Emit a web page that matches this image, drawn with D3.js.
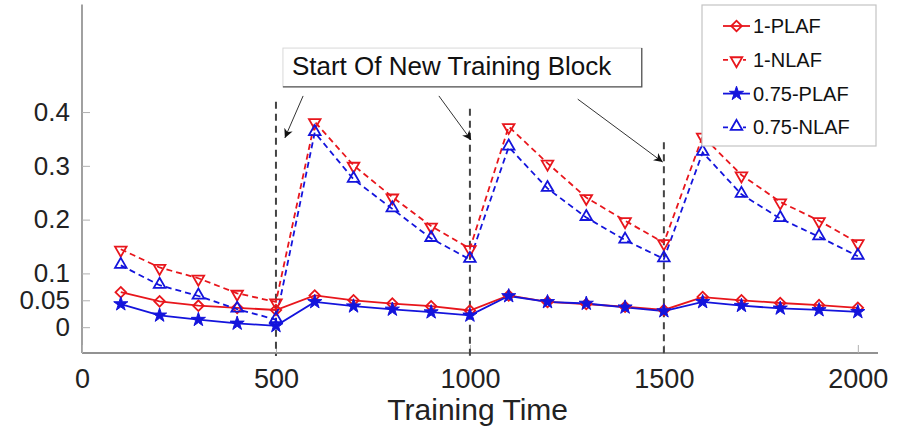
<!DOCTYPE html>
<html>
<head>
<meta charset="utf-8">
<script src="https://cdn.jsdelivr.net/npm/d3@7"></script>
<style>
  html, body { margin: 0; padding: 0; background: #fff; }
  svg { display: block; font-family: "Liberation Sans", Arial, sans-serif; }
</style>
</head>
<body>
<svg id="chart" width="904" height="429"></svg>
<script>
// ---------- data ----------
const trainingTime = [100,200,300,400,500,600,700,800,900,1000,1100,1200,1300,1400,1500,1600,1700,1800,1900,2000];
const plaf1   = [0.065,0.048,0.040,0.036,0.032, 0.059,0.050,0.044,0.039,0.031, 0.059,0.047,0.043,0.038,0.032, 0.056,0.050,0.045,0.041,0.036];
const nlaf1   = [0.145,0.111,0.091,0.063,0.047, 0.382,0.301,0.242,0.188,0.146, 0.373,0.305,0.241,0.198,0.157, 0.355,0.283,0.233,0.198,0.157];
const plaf075 = [0.043,0.022,0.014,0.007,0.0025, 0.047,0.039,0.033,0.028,0.022, 0.058,0.047,0.044,0.037,0.030, 0.047,0.040,0.035,0.032,0.0285];
const nlaf075 = [0.115,0.078,0.058,0.0335,0.014, 0.362,0.275,0.220,0.165,0.126, 0.335,0.258,0.204,0.162,0.127, 0.325,0.247,0.202,0.168,0.132];
const seriesNames = ["1-PLAF","1-NLAF","0.75-PLAF","0.75-NLAF"];
const xTicks = [0,500,1000,1500,2000];
const yTicks = [0,0.05,0.1,0.2,0.3,0.4];
const blockStarts = [500,1000,1500];
const blockLineTops = [0.419,0.406,0.344];
const annotationText = "Start Of New Training Block";
// arrows: [fromX, fromY, toX, toY] in data units
const arrowsFrom = [[570,0.430],[920,0.430],[1278,0.424]];
const arrowsTo   = [[523,0.352],[1003,0.348],[1497,0.307]];
const annotationBox = [518,1443,0.519,0.447];

// ---------- setup ----------
const svg = d3.select("#chart");
const x = d3.scaleLinear().domain([0,2052]).range([82,878]);
const y = d3.scaleLinear().domain([-0.048,0.6]).range([353,4.5]);

const RED = "#e8161c", BLUE = "#1414dc", AX = "#6e6e6e", TXT = "#222";

const series = [
  {name: seriesNames[0], vals: plaf1,   color: RED,  dash: null,  sym: "diamond"},
  {name: seriesNames[1], vals: nlaf1,   color: RED,  dash: "6,4", sym: "tridown"},
  {name: seriesNames[2], vals: plaf075, color: BLUE, dash: null,  sym: "star"},
  {name: seriesNames[3], vals: nlaf075, color: BLUE, dash: "6,4", sym: "triup"}
];

function symPath(sym){
  if (sym === "diamond") return d3.symbol(d3.symbolSquare, 56)();
  if (sym === "star") return d3.symbol(d3.symbolStar, 62)();
  return d3.symbol(d3.symbolTriangle, 58)();
}
function symTransform(sym, cx, cy){
  if (sym === "diamond") return `translate(${cx},${cy}) rotate(45)`;
  if (sym === "tridown") return `translate(${cx},${cy+0.8}) rotate(180)`;
  if (sym === "triup") return `translate(${cx},${cy-0.8})`;
  return `translate(${cx},${cy})`;
}
function drawMarker(g, sym, color, cx, cy){
  g.append("path")
    .attr("d", symPath(sym))
    .attr("transform", symTransform(sym, cx, cy))
    .attr("fill", sym === "star" ? color : "none")
    .attr("stroke", color)
    .attr("stroke-width", sym === "star" ? 1 : 1.8)
    .attr("stroke-linejoin", "miter");
}

// ---------- axes ----------
const yAxis = d3.axisLeft(y).tickValues(yTicks).tickSize(-8).tickPadding(12)
  .tickFormat(d => d === 0 ? "0" : String(d));
const gy = svg.append("g").attr("transform", `translate(${x(0)},0)`).call(yAxis);
gy.select(".domain").attr("d", `M0,${y.range()[1]}V${y.range()[0]}`).attr("stroke", AX).attr("stroke-width", 1.3);
gy.selectAll(".tick line").attr("stroke", "#b0b0b0");
gy.selectAll(".tick text").attr("font-size", 26).attr("fill", TXT);

const xAxis = d3.axisBottom(x).tickValues(xTicks).tickSize(-8).tickPadding(16).tickFormat(d3.format("d"));
const gx = svg.append("g").attr("transform", `translate(0,${y.range()[0]})`).call(xAxis);
gx.select(".domain").attr("d", `M${x.range()[0]},0H${x.range()[1]}`).attr("stroke", AX).attr("stroke-width", 1.3);
gx.selectAll(".tick line").attr("stroke", "#b0b0b0");
gx.selectAll(".tick text").attr("font-size", 27).attr("fill", TXT);

svg.append("text").attr("x", x(1020)).attr("y", 420).attr("text-anchor", "middle")
  .attr("font-size", 30).attr("fill", TXT).text("Training Time");

// ---------- block lines ----------
blockStarts.forEach((b, i) => {
  svg.append("line")
    .attr("x1", x(b)).attr("x2", x(b))
    .attr("y1", y(blockLineTops[i])).attr("y2", y.range()[0] + 3)
    .attr("stroke", "#444").attr("stroke-width", 2).attr("stroke-dasharray", "7,5");
});

// ---------- series ----------
const line = d3.line().x((d, i) => x(trainingTime[i])).y(d => y(d));
series.forEach(s => {
  svg.append("path").datum(s.vals).attr("d", line)
    .attr("fill", "none").attr("stroke", s.color).attr("stroke-width", 1.8)
    .attr("stroke-dasharray", s.dash);
});
series.forEach(s => {
  const g = svg.append("g");
  s.vals.forEach((v, i) => drawMarker(g, s.sym, s.color, x(trainingTime[i]), y(v)));
});

// ---------- annotation ----------
const defs = svg.append("defs");
defs.append("marker").attr("id", "arr").attr("viewBox", "0 0 10 10")
  .attr("refX", 10).attr("refY", 5).attr("markerWidth", 9).attr("markerHeight", 9)
  .attr("markerUnits", "userSpaceOnUse").attr("orient", "auto")
  .append("path").attr("d", "M0,0L10,5L0,10L3,5Z").attr("fill", "#111");

arrowsFrom.forEach((f, i) => {
  const t = arrowsTo[i];
  svg.append("line")
    .attr("x1", x(f[0])).attr("y1", y(f[1]))
    .attr("x2", x(t[0])).attr("y2", y(t[1]))
    .attr("stroke", "#333").attr("stroke-width", 1).attr("marker-end", "url(#arr)");
});

const bx0 = x(annotationBox[0]), bx1 = x(annotationBox[1]);
const by0 = y(annotationBox[2]), by1 = y(annotationBox[3]);
svg.append("rect").attr("x", bx0).attr("y", by0).attr("width", bx1 - bx0).attr("height", by1 - by0)
  .attr("fill", "#fff").attr("stroke", "#d8d8d8").attr("stroke-width", 1);
svg.append("path").attr("d", `M${bx0},${by1}H${bx1}V${by0}`)
  .attr("fill", "none").attr("stroke", "#555").attr("stroke-width", 1.3);
svg.append("text").attr("x", bx0 + 9).attr("y", by0 + 27)
  .attr("font-size", 26).attr("fill", "#111").text(annotationText);

// ---------- legend ----------
const lg = svg.append("g").attr("transform", "translate(702,5)");
lg.append("rect").attr("width", 174).attr("height", 141)
  .attr("fill", "#fff").attr("stroke", "#c4c4c4").attr("stroke-width", 1.2);
series.forEach((s, i) => {
  const cy = 21 + i * 33.8;
  lg.append("line").attr("x1", 21).attr("x2", 48).attr("y1", cy).attr("y2", cy)
    .attr("stroke", s.color).attr("stroke-width", 1.8)
    .attr("stroke-dasharray", s.dash ? "5,4" : null);
  if (s.dash) {
    lg.append("rect").attr("x", 28).attr("y", cy - 6).attr("width", 13).attr("height", 12).attr("fill", "#fff");
  }
  drawMarker(lg, s.sym, s.color, 34.5, cy);
  lg.append("text").attr("x", 51).attr("y", cy + 7).attr("font-size", 20).attr("fill", "#111").text(s.name);
});
</script>
</body>
</html>
